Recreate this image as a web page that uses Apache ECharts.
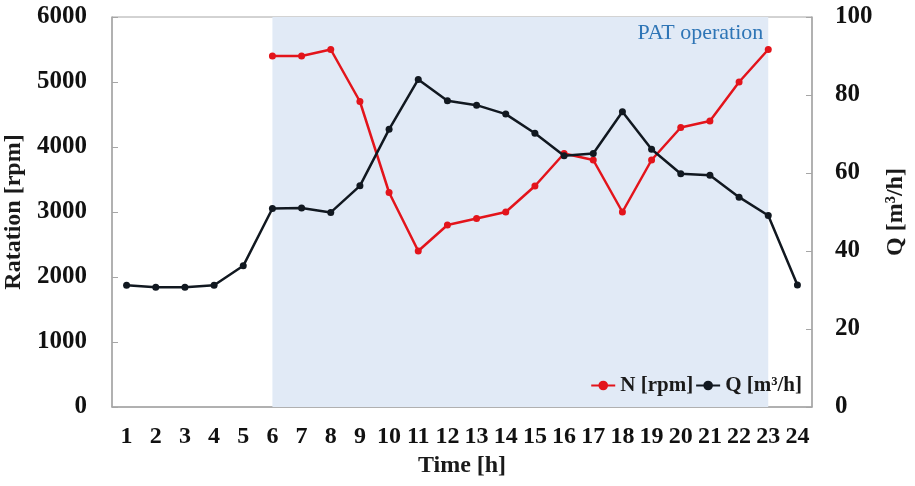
<!DOCTYPE html>
<html>
<head>
<meta charset="utf-8">
<script src="https://cdn.jsdelivr.net/npm/echarts@6/dist/echarts.min.js"></script>
<style>
  html, body { margin: 0; padding: 0; background: #fff; }
  #chart { width: 915px; height: 486px; }
</style>
</head>
<body>
<div id="chart"></div>
<script>
// hours of the day
const hours = ['1','2','3','4','5','6','7','8','9','10','11','12','13','14','15','16','17','18','19','20','21','22','23','24']
// rotation speed N [rpm], only during PAT operation (6..23)
const rotation = [null, null, null, null, null, 5400, 5400, 5500, 4700, 3300, 2400, 2800, 2900, 3000, 3400, 3900, 3800, 3000, 3800, 4300, 4400, 5000, 5500, null]
// flow Q [m3/h]
const flow = [31.2, 30.7, 30.7, 31.2, 36.2, 50.9, 51, 49.9, 56.7, 71.2, 84, 78.5, 77.4, 75.1, 70.2, 64.4, 65, 75.7, 66.1, 59.8, 59.4, 53.8, 49.1, 31.3]
// shaded band
const patRange = ['6', '23']

const font = 'Liberation Serif, Times New Roman, serif'
const axisColor = '#a6a6a6'

const chart = echarts.init(document.getElementById('chart'))

const option = {
  animation: false,
  textStyle: { fontFamily: font },
  grid: {
    left: 112, right: 103, top: 17, bottom: 79,
    outerBoundsMode: 'none',
    containLabel: false,
    show: true, borderColor: axisColor, borderWidth: 1
  },
  legend: {
    right: 108, top: 370,
    itemWidth: 24, itemHeight: 12, itemGap: 2,
    textStyle: { fontFamily: font, fontWeight: 'bold', fontSize: 21, color: '#1a1a1a' },
    data: ['N [rpm]', 'Q [m³/h]']
  },
  xAxis: {
    type: 'category',
    data: hours,
    boundaryGap: true,
    name: 'Time [h]',
    nameLocation: 'middle',
    nameGap: 46,
    nameTextStyle: { fontFamily: font, fontWeight: 'bold', fontSize: 24, color: '#1a1a1a' },
    axisLine: { lineStyle: { color: axisColor, width: 1.5 } },
    axisTick: { inside: true, length: 6, lineStyle: { color: axisColor } },
    axisLabel: { interval: 0, hideOverlap: false, margin: 18, fontFamily: font, fontWeight: 'bold', fontSize: 24, color: '#111' },
    splitLine: { show: false }
  },
  yAxis: [
    {
      type: 'value',
      min: 0, max: 6000, interval: 1000,
      name: 'Ratation [rpm]',
      nameLocation: 'middle',
      nameGap: 79,
      nameTextStyle: { fontFamily: font, fontWeight: 'bold', fontSize: 24, color: '#1a1a1a' },
      axisLine: { show: true, lineStyle: { color: axisColor, width: 1.5 } },
      axisTick: { show: true, inside: true, length: 6, lineStyle: { color: axisColor } },
      axisLabel: { formatter: v => String(v), margin: 25, fontFamily: font, fontWeight: 'bold', fontSize: 25, color: '#111' },
      splitLine: { show: false }
    },
    {
      type: 'value',
      min: 0, max: 100, interval: 20,
      name: 'Q [m³/h]',
      nameLocation: 'middle',
      nameGap: 68,
      nameTextStyle: { fontFamily: font, fontWeight: 'bold', fontSize: 24, color: '#1a1a1a' },
      axisLine: { show: true, lineStyle: { color: axisColor, width: 1.5 } },
      axisTick: { show: true, inside: true, length: 6, lineStyle: { color: axisColor } },
      axisLabel: { formatter: v => String(v), margin: 23, fontFamily: font, fontWeight: 'bold', fontSize: 25, color: '#111' },
      splitLine: { show: false }
    }
  ],
  series: [
    {
      name: 'N [rpm]',
      type: 'line',
      yAxisIndex: 0,
      data: rotation,
      symbol: 'circle',
      symbolSize: 7,
      itemStyle: { color: '#e3141b' },
      lineStyle: { color: '#e3141b', width: 2.5 },
      z: 3,
      markArea: {
        silent: true,
        itemStyle: { color: '#e1eaf6' },
        label: {
          show: true,
          position: 'insideTopRight',
          formatter: 'PAT operation',
          fontFamily: font,
          fontSize: 22,
          color: '#2e75b6'
        },
        data: [[{ name: 'PAT operation', xAxis: patRange[0], yAxis: 6000 }, { xAxis: patRange[1], yAxis: 0 }]]
      }
    },
    {
      name: 'Q [m³/h]',
      type: 'line',
      yAxisIndex: 1,
      data: flow,
      symbol: 'circle',
      symbolSize: 7,
      itemStyle: { color: '#111820' },
      lineStyle: { color: '#111820', width: 2.5 },
      z: 4
    }
  ]
}

chart.setOption(option)
</script>
</body>
</html>
